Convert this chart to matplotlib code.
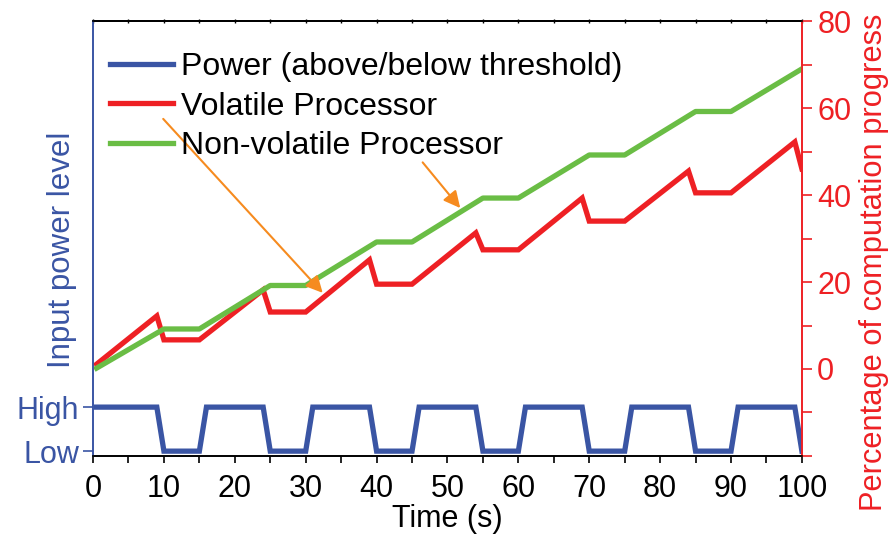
import matplotlib
matplotlib.use("Agg")
import matplotlib.pyplot as plt
from matplotlib.ticker import MultipleLocator

plt.rcParams['font.family'] = ['Liberation Sans', 'DejaVu Sans']

# power waveform (left axis, 0 = Low, 1 = High)
t_power = [0.5, 9, 10, 15, 16, 24, 25, 30, 31, 39, 40, 45, 46, 54, 55, 60, 61, 69, 70, 75, 76, 84, 85, 90, 91, 99, 100]
power = [1, 1, 0, 0, 1, 1, 0, 0, 1, 1, 0, 0, 1, 1, 0, 0, 1, 1, 0, 0, 1, 1, 0, 0, 1, 1, 0]

# volatile processor progress (%)
t_vol = [0.5, 9, 10, 15, 24, 25, 30, 39, 40, 45, 54, 55, 60, 69, 70, 75, 84, 85, 90, 99, 100]
vol = [1.1, 12.2, 6.7, 6.7, 18.2, 13.1, 13.1, 25.1, 19.5, 19.5, 31.3, 27.4, 27.4, 39.3, 34, 34, 45.5, 40.5, 40.5, 52.2, 46]

# non-volatile processor progress (%)
t_nv = [0.5, 10, 15, 25, 30, 40, 45, 55, 60, 70, 75, 85, 90, 100]
nv = [0.2, 9.2, 9.2, 19.2, 19.2, 29.2, 29.2, 39.3, 39.3, 49.2, 49.2, 59.2, 59.2, 69]

# right axis ticks (bottom one drawn without a label)
pct_ticks = [-20, 0, 20, 40, 60, 80]
pct_labels = ["", "0", "20", "40", "60", "80"]

blue = "#3A55A4"
red = "#EE2024"
green = "#6ABD45"
orange = "#F68B1F"

fig = plt.figure(figsize=(8.92, 5.39), dpi=100)
ax = fig.add_axes([0.1043, 0.154, 0.7947, 0.807])
ax2 = ax.twinx()

l1, = ax.plot(t_power, power, color=blue, lw=3.8, solid_joinstyle='miter', label="Power (above/below threshold)")
l2, = ax2.plot(t_vol, vol, color=red, lw=3.8, solid_joinstyle='miter', label="Volatile Processor")
l3, = ax2.plot(t_nv, nv, color=green, lw=3.8, label="Non-volatile Processor")

ax.set_xlim(0, 100)
ax.set_ylim(-0.11, 9.77)
ax2.set_ylim(-20, 80)

ax.xaxis.set_major_locator(MultipleLocator(10))
ax.xaxis.set_minor_locator(MultipleLocator(5))
ax.tick_params(axis='x', which='major', direction='out', length=5, width=1.2, labelsize=22, pad=8)
ax.tick_params(axis='x', which='minor', direction='out', length=5, width=1.2)
ax.set_xlabel("Time (s)", fontsize=22, labelpad=0)

# tiny ticks on the top frame
top = ax.secondary_xaxis('top')
top.xaxis.set_major_locator(MultipleLocator(5))
top.tick_params(axis='x', direction='inout', length=3, width=1, labeltop=False)

ax.set_yticks([0, 1])
ax.set_yticklabels(["Low", "High"])
ax.tick_params(axis='y', colors=blue, labelsize=22, length=7, width=1.2, direction='out', pad=3)
ax.set_ylabel("Input power level", color=blue, fontsize=22.5)
ax.yaxis.set_label_coords(-0.023, 0.474)

ax2.set_yticks(pct_ticks)
ax2.set_yticklabels(pct_labels)
ax2.yaxis.set_minor_locator(MultipleLocator(10))
ax2.tick_params(axis='y', which='both', colors=red, labelsize=22, direction='out', width=1.2, length=7, pad=4)
ax2.set_ylabel("Percentage of computation progress", color=red, fontsize=22.2)
ax2.yaxis.set_label_coords(1.080, 0.445)

ax2.spines['left'].set_color(blue)
ax2.spines['right'].set_color(red)
ax.spines['left'].set_color(blue)
ax.spines['right'].set_color(red)
for a in (ax, ax2):
    a.spines['top'].set_color('black')
    a.spines['bottom'].set_color('black')
    for s in a.spines.values():
        s.set_linewidth(1.2)
top.spines['top'].set_linewidth(1.2)

ax2.annotate("", xy=(32.4, 17.5), xytext=(9.9, 57.5),
             arrowprops=dict(arrowstyle='-|>', color=orange, lw=1.5, mutation_scale=25, shrinkA=0, shrinkB=0))
ax2.annotate("", xy=(51.8, 37), xytext=(46.5, 47.5),
             arrowprops=dict(arrowstyle='-|>', color=orange, lw=1.5, mutation_scale=25, shrinkA=0, shrinkB=0))

ax2.legend([l1, l2, l3], [l1.get_label(), l2.get_label(), l3.get_label()],
           loc='upper left', bbox_to_anchor=(-0.007, 0.98), frameon=False, fontsize=23,
           handlelength=1.95, handletextpad=0.25, labelspacing=0.3, borderaxespad=0.3)

fig.savefig("out.png", dpi=100)
